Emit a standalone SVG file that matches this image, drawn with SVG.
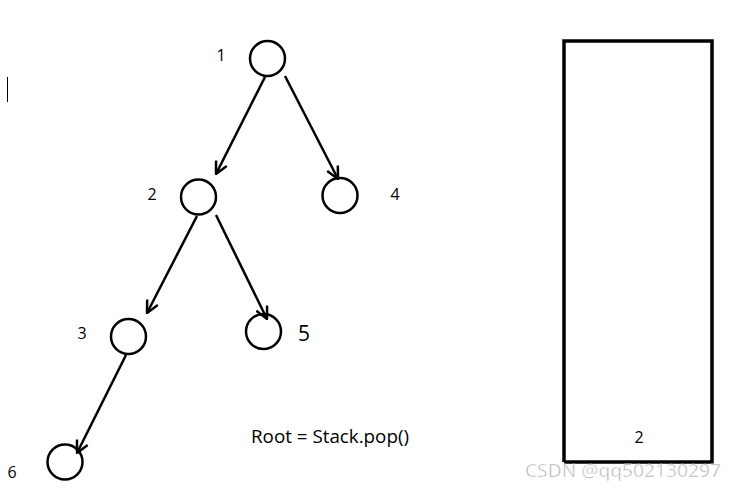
<svg xmlns="http://www.w3.org/2000/svg" width="736" height="491" viewBox="0 0 736 491">
<style>
.node{fill:none;stroke:#000;stroke-width:2.5}
.lbl{font-family:"Open Sans","Liberation Sans",sans-serif;font-size:16px;fill:#000}
.edge{stroke:#000;stroke-width:2.5;fill:none;marker-end:url(#arr)}
</style>
<defs>
<marker id="arr" markerUnits="userSpaceOnUse" viewBox="0 0 14 14" refX="13" refY="7" markerWidth="14" markerHeight="14" orient="auto">
<path d="M1,1 L13,7 L1,13" fill="none" stroke="#000" stroke-width="2.5" stroke-linejoin="miter"/>
</marker>
</defs>
<rect width="736" height="491" fill="#fff"/>
<line x1="7.5" y1="77" x2="7.5" y2="102" stroke="#000" stroke-width="1"/>
<g id="connectors">
<line class="edge" x1="265" y1="77" x2="216" y2="174"/>
<line class="edge" x1="285" y1="76" x2="338" y2="179"/>
<line class="edge" x1="197" y1="216" x2="147" y2="313"/>
<line class="edge" x1="216" y1="215" x2="267" y2="319"/>
<line class="edge" x1="126" y1="355" x2="77" y2="453"/>
</g>
<g id="n1"><circle class="node" cx="267.5" cy="58.5" r="17.5"/><text class="lbl" x="221" y="61" text-anchor="middle">1</text></g>
<g id="n2"><circle class="node" cx="198.5" cy="197" r="17.5"/><text class="lbl" x="152" y="200" text-anchor="middle">2</text></g>
<g id="n4"><circle class="node" cx="340" cy="195.5" r="17.5"/><text class="lbl" x="395" y="200" text-anchor="middle">4</text></g>
<g id="n3"><circle class="node" cx="128.5" cy="336.5" r="17.5"/><text class="lbl" x="82" y="339" text-anchor="middle">3</text></g>
<g id="n5"><circle class="node" cx="263.5" cy="331.5" r="17.5"/><text class="lbl" x="304" y="341" text-anchor="middle" style="font-size:21px">5</text></g>
<g id="n6"><circle class="node" cx="65" cy="462" r="17.5"/><text class="lbl" x="12" y="478" text-anchor="middle">6</text></g>
<text class="lbl" x="251" y="443" style="font-size:18px" textLength="158" lengthAdjust="spacingAndGlyphs">Root = Stack.pop()</text>
<g id="stack">
<polyline points="564,462 564,41 712,41 712,462 564,462" fill="none" stroke="#000" stroke-width="3.5"/>
<text class="lbl" x="639" y="443" text-anchor="middle">2</text>
</g>
<text x="623" y="477" text-anchor="middle" font-family="Open Sans,Liberation Sans,sans-serif" font-size="19" textLength="196" lengthAdjust="spacingAndGlyphs" fill="#aaa" stroke="#fff" stroke-width="0.5">CSDN @qq502130297</text>
</svg>
